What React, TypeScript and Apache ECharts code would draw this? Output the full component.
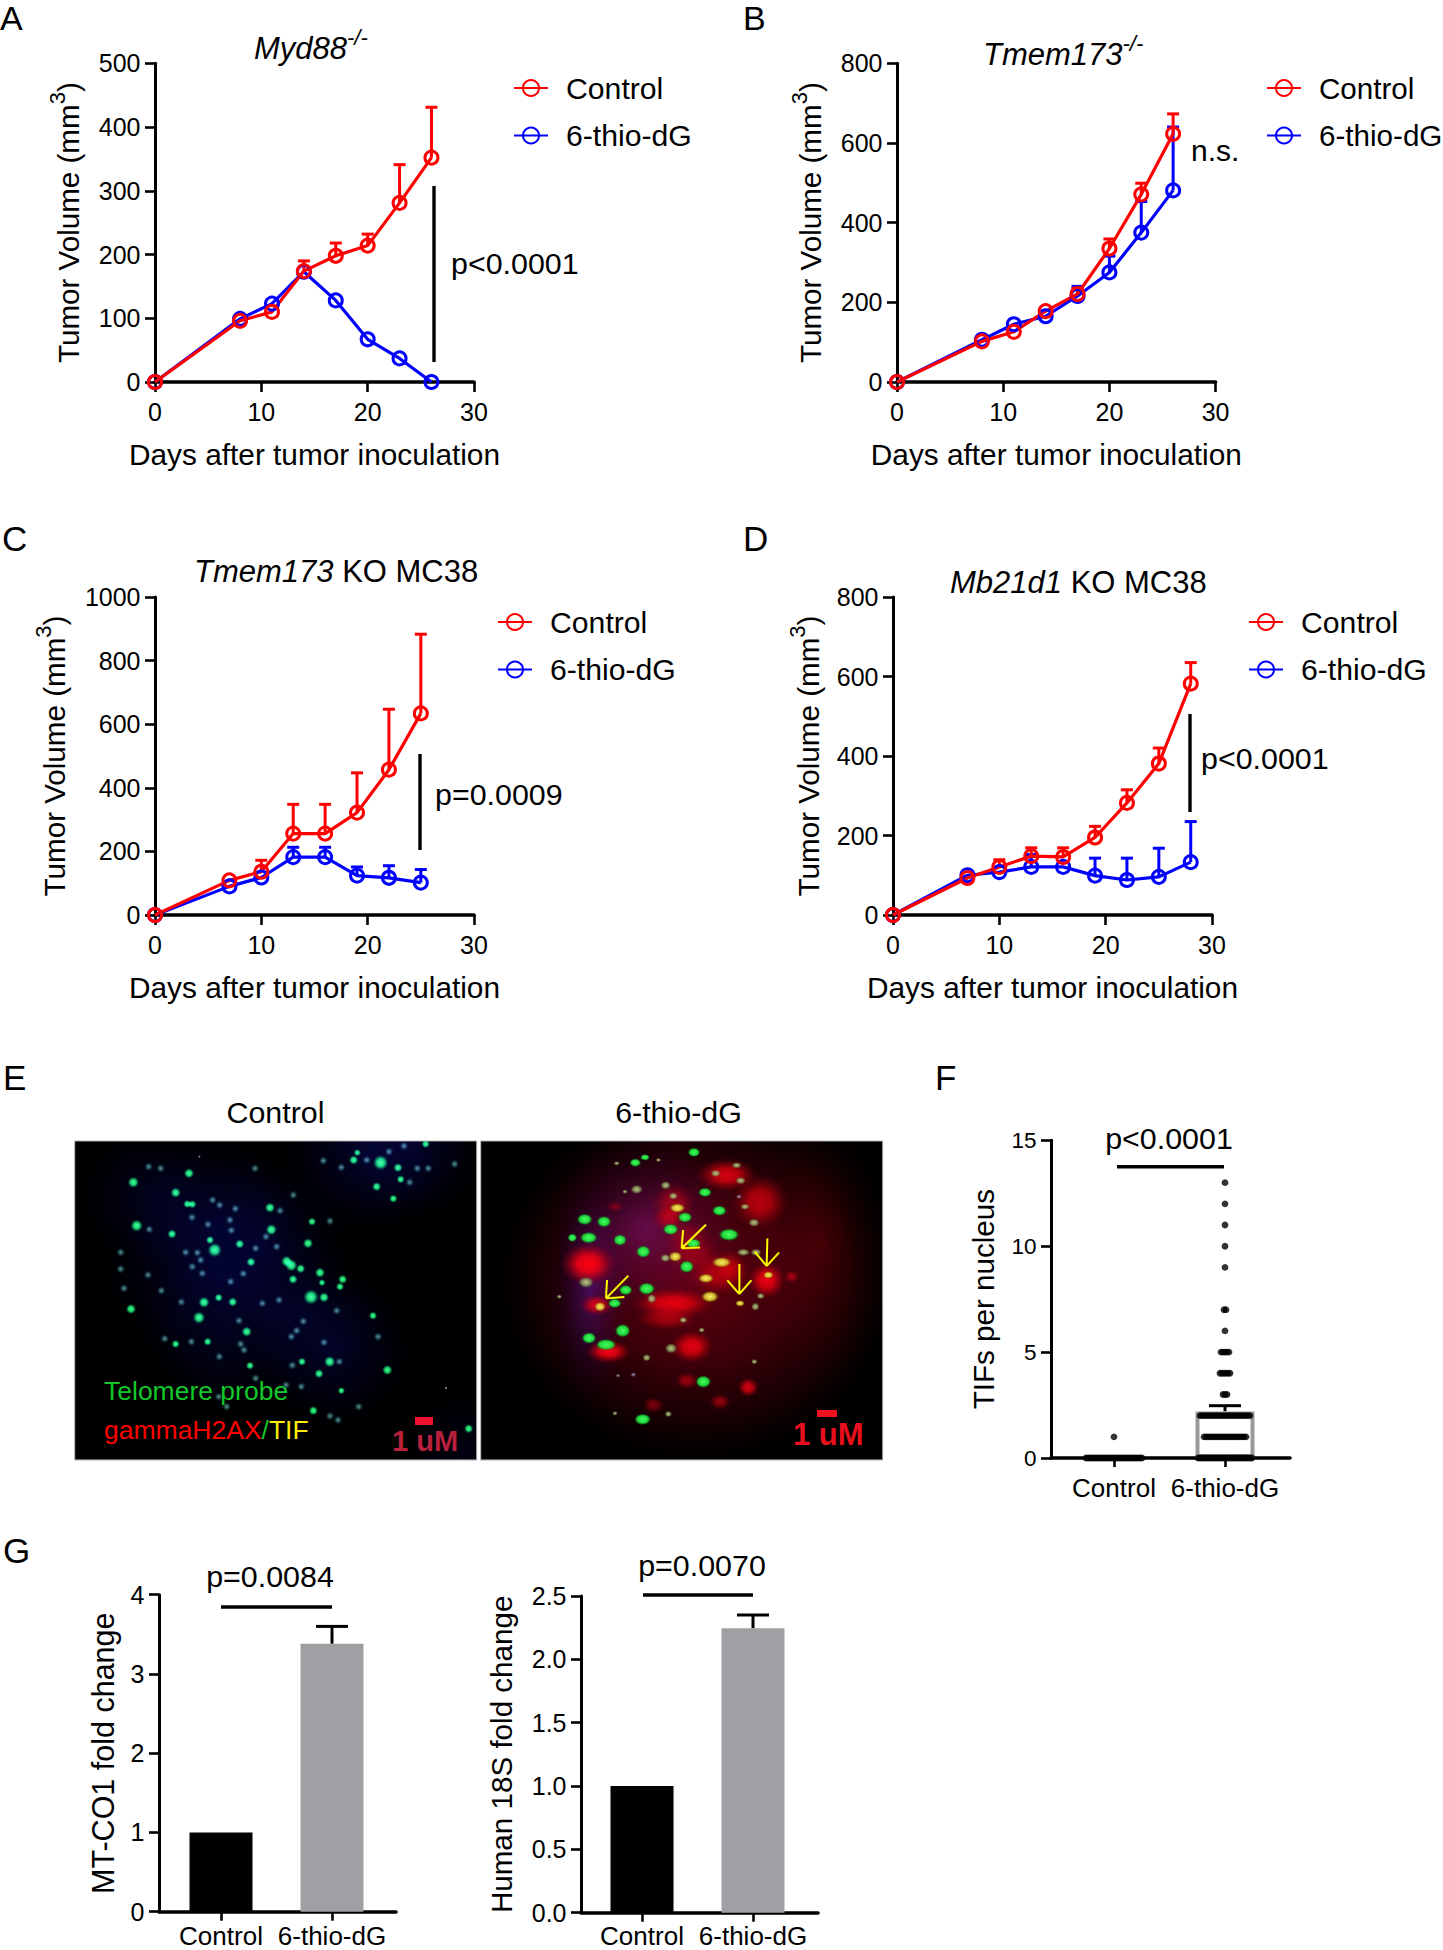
import React, { useEffect, useRef } from "react";
import * as echarts from "echarts";

const FONT = "Liberation Sans";
const RED = "#ff0000";
const BLUE = "#0000ff";

// ---- Panel A
const daysA = [0, 8, 11, 14, 17, 20, 23, 26];
const ctrlA = [0, 96, 110, 174, 198, 214, 281, 352];
const ctrlTopA = [null, null, null, 190, 218, 232, 341, 431];
const drugA = [0, 99, 123, 173, 128, 67, 37, 0];
const drugTopA = [null, null, null, null, null, null, null, null];
const yTicksA = { max: 500, step: 100 };
// ---- Panel B
const daysB = [0, 8, 11, 14, 17, 20, 23, 26];
const ctrlB = [0, 102, 126, 178, 221, 335, 471, 623];
const ctrlTopB = [null, null, null, null, 235, 359, 499, 673];
const drugB = [0, 106, 145, 165, 216, 275, 375, 481];
const drugTopB = [null, null, null, null, 240, 316, 453, 640];
const yTicksB = { max: 800, step: 200 };
// ---- Panel C
const daysC = [0, 7, 10, 13, 16, 19, 22, 25];
const ctrlC = [0, 109, 136, 256, 256, 322, 457, 634];
const ctrlTopC = [null, null, 172, 348, 348, 447, 647, 883];
const drugC = [0, 90, 118, 182, 182, 124, 117, 102];
const drugTopC = [null, null, null, 213, 213, 151, 155, 143];
const yTicksC = { max: 1000, step: 200 };
// ---- Panel D
const daysD = [0, 7, 10, 13, 16, 19, 22, 25, 28];
const ctrlD = [0, 93, 121, 148, 146, 195, 282, 381, 582];
const ctrlTopD = [null, null, 139, 169, 169, 223, 315, 420, 635];
const drugD = [0, 100, 108, 121, 121, 99, 88, 96, 133];
const drugTopD = [null, null, null, 152, null, 143, 143, 168, 235];
const yTicksD = { max: 800, step: 200 };
// ---- Panel F: how many nuclei sit at each TIF count
const tifLevelsDrug = [13, 12, 11, 10, 9, 7, 6, 5, 4, 3, 2, 1, 0];
const tifCountsDrug = [1, 1, 1, 1, 1, 2, 1, 5, 6, 3, 26, 22, 28];
const tifLevelsCtrl = [1, 0];
const tifCountsCtrl = [1, 29];
const tifMean = [0.03, 2.2];
const tifErrTop = [null, 2.47];
// ---- Panel G
const fcCategories = ["Control", "6-thio-dG"];
const mtco1Mean = [1, 3.38];
const mtco1Top = [null, 3.6];
const h18sMean = [1, 2.245];
const h18sTop = [null, 2.35];

// ---- Micrograph spots, in 3x crop pixels: x, y, radius
const ctlBright = [[178,127,11],[345,100,10],[305,158,10],[340,192,8],[355,193,8],[188,257,12],[294,282,9],[422,330,14],[408,300,8],[588,203,10],[592,269,11],[497,312,9],[531,366,9],[638,364,11],[652,376,12],[680,386,9],[657,418,9],[702,310,10],[714,245,8],[738,398,10],[744,428,7],[806,418,9],[798,440,8],[711,471,15],[750,472,10],[390,487,11],[476,486,9],[434,473,8],[375,533,12],[171,507,10],[518,575,10],[305,612,8],[401,605,8],[767,665,11],[735,701,9],[684,665,8],[528,677,8],[897,527,8],[940,690,10],[718,812,9],[802,752,7],[1184,866,9],[920,68,15],[839,60,9],[972,83,9],[1055,12,8],[908,140,9],[958,176,8],[980,118,8],[850,38,7]];
const ctlDim = [[224,80],[260,85],[226,268],[140,337],[140,387],[150,445],[222,405],[262,452],[322,486],[335,337],[355,380],[385,400],[380,360],[470,425],[472,271],[508,401],[565,490],[615,480],[545,325],[608,320],[576,290],[768,243],[788,512],[688,544],[668,572],[652,590],[750,607],[655,676],[495,542],[500,612],[510,630],[436,650],[352,605],[272,596],[545,715],[682,740],[636,735],[434,770],[458,800],[792,840],[912,590],[990,18],[945,35],[878,60],[802,82],[748,62],[1007,127],[1142,72],[1063,85],[1030,85],[543,85],[484,206],[468,240],[402,253],[354,232],[416,180],[437,195],[370,338],[796,665],[854,800],[768,828],[618,212],[658,165]];
const ctlHaze = [[230,170,230,.22],[430,250,280,.28],[560,340,280,.28],[450,570,260,.26],[780,630,250,.28],[870,30,270,.3],[1010,20,240,.26],[1160,930,190,.15],[300,420,240,.16],[680,520,240,.16]];
const drugGreen = [[314,238,15,11],[372,245,14,11],[326,293,17,11],[420,300,13,11],[500,446,16,12],[437,450,13,10],[404,490,13,9],[428,572,15,13],[327,594,14,11],[378,614,20,11],[466,68,11,8],[495,52,9,6],[642,37,12,9],[572,268,15,11],[615,232,14,10],[675,157,13,9],[718,212,14,10],[747,284,20,12],[640,310,15,9],[620,380,14,12],[670,725,15,12],[488,838,16,11],[277,293,9,8],[490,335,14,12]];
const drugPale = [[318,427,15,11],[515,476,9,9],[470,148,12,9],[557,136,10,8],[707,100,10,7],[770,76,10,6],[782,122,10,7],[795,200,9,6],[822,248,11,8],[790,337,13,7],[828,337,11,7],[556,354,10,8],[573,625,12,10],[500,653,8,7],[580,168,9,7],[610,540,8,6],[665,570,6,5],[842,468,8,6],[826,500,8,8],[238,470,5,4],[405,820,5,4],[823,665,6,5],[435,155,5,4],[410,70,6,4],[535,60,5,4],[565,822,7,6]];
const drugYellow = [[592,204,15,9],[725,367,19,10],[586,350,13,10],[678,415,15,9],[690,470,17,11],[360,500,11,9],[780,490,9,6],[865,405,10,7]];
const drugWhite = [[460,704,8,6],[414,707,7,5],[777,170,8,6]];
const drugRed = [[325,372,56,44,1],[740,105,62,34,.8],[840,185,58,56,.65],[580,190,44,44,.45],[565,235,34,28,.5],[620,290,50,34,.3],[720,400,66,44,.55],[640,340,56,40,.35],[860,420,38,38,.9],[935,410,16,13,.5],[580,490,84,32,.85],[560,535,64,24,.5],[350,495,34,22,.8],[635,620,44,34,.85],[385,635,46,24,.95],[620,722,24,17,.5],[805,742,22,20,.8],[720,785,22,17,.5],[520,795,22,17,.4],[405,200,17,11,.35],[750,380,34,34,.4]];
const drugArrows = [[678,254,605,325],[445,407,378,475],[778,372,778,462],[862,295,860,378]];

type Ctx = CanvasRenderingContext2D;
function blob(ctx: Ctx, x: number, y: number, rx: number, ry: number, stops: [number, string][]) {
  ctx.save();
  ctx.translate(x, y);
  ctx.scale(rx, ry);
  const g = ctx.createRadialGradient(0, 0, 0, 0, 0, 1);
  stops.forEach(([o, c]) => g.addColorStop(o, c));
  ctx.fillStyle = g;
  ctx.beginPath();
  ctx.arc(0, 0, 1, 0, Math.PI * 2);
  ctx.fill();
  ctx.restore();
}
function makeCanvas(): [HTMLCanvasElement, Ctx] {
  const canvas = document.createElement("canvas");
  canvas.width = 1212;
  canvas.height = 966;
  const ctx = canvas.getContext("2d") as Ctx;
  ctx.fillStyle = "#000";
  ctx.fillRect(0, 0, 1212, 966);
  ctx.globalCompositeOperation = "lighter";
  return [canvas, ctx];
}
function finish(canvas: HTMLCanvasElement, ctx: Ctx) {
  ctx.globalCompositeOperation = "source-over";
  ctx.fillStyle = "#fff";
  ctx.fillRect(0, 0, 1212, 3);
  ctx.fillRect(0, 960, 1212, 6);
  ctx.fillRect(0, 0, 2, 966);
  ctx.fillRect(1208, 0, 4, 966);
  ctx.strokeStyle = "#b8b8b8";
  ctx.lineWidth = 3;
  ctx.strokeRect(2, 3, 1206, 957);
  return canvas.toDataURL("image/png");
}
function paintControl() {
  const [canvas, ctx] = makeCanvas();
  ctlHaze.forEach(([x, y, r, a]) =>
    blob(ctx, x, y, r, r, [[0, `rgba(10,10,120,${a})`], [0.55, `rgba(8,8,90,${a * 0.6})`], [1, "rgba(0,0,40,0)"]]),
  );
  ctlDim.forEach(([x, y]) =>
    blob(ctx, x, y, 14, 14, [[0, "rgba(120,190,180,.8)"], [0.45, "rgba(70,140,135,.55)"], [1, "rgba(0,40,40,0)"]]),
  );
  ctlBright.forEach(([x, y, r]) =>
    blob(ctx, x, y, r * 1.6, r * 1.6, [[0, "rgba(70,255,140,1)"], [0.5, "rgba(25,220,95,.95)"], [0.75, "rgba(15,130,70,.55)"], [1, "rgba(0,50,30,0)"]]),
  );
  blob(ctx, 1116, 744, 4, 4, [[0, "#fff"], [1, "rgba(255,255,255,0)"]]);
  blob(ctx, 376, 50, 4, 4, [[0, "#bbb"], [1, "rgba(255,255,255,0)"]]);
  return finish(canvas, ctx);
}
function paintDrug() {
  const [canvas, ctx] = makeCanvas();
  blob(ctx, 650, 420, 610, 560, [[0, "rgba(130,0,20,.75)"], [0.45, "rgba(100,0,16,.6)"], [0.75, "rgba(55,0,8,.45)"], [1, "rgba(20,0,0,0)"]]);
  blob(ctx, 1020, 300, 220, 460, [[0, "rgba(75,0,0,.45)"], [1, "rgba(20,0,0,0)"]]);
  blob(ctx, 500, 270, 290, 270, [[0, "rgba(70,25,125,.5)"], [1, "rgba(20,0,60,0)"]]);
  blob(ctx, 330, 460, 120, 320, [[0, "rgba(35,20,130,.6)"], [1, "rgba(0,0,50,0)"]]);
  ctx.globalCompositeOperation = "source-over";
  drugRed.forEach(([x, y, rx, ry, a]) =>
    blob(ctx, x, y, rx * 1.5, ry * 1.5, [[0, `rgba(255,0,20,${a})`], [0.4, `rgba(245,0,15,${a * 0.85})`], [0.75, `rgba(190,0,15,${a * 0.35})`], [1, "rgba(120,0,10,0)"]]),
  );
  drugPale.forEach(([x, y, rx, ry]) =>
    blob(ctx, x, y, rx * 1.6, ry * 1.6, [[0, "rgba(200,215,150,.95)"], [0.6, "rgba(140,160,95,.75)"], [1, "rgba(60,70,30,0)"]]),
  );
  drugYellow.forEach(([x, y, rx, ry]) =>
    blob(ctx, x, y, rx * 1.6, ry * 1.6, [[0, "rgba(255,240,100,1)"], [0.6, "rgba(215,200,50,.9)"], [1, "rgba(120,100,0,0)"]]),
  );
  drugWhite.forEach(([x, y, rx, ry]) =>
    blob(ctx, x, y, rx * 1.3, ry * 1.3, [[0, "rgba(210,210,230,.95)"], [1, "rgba(60,60,90,0)"]]),
  );
  drugGreen.forEach(([x, y, rx, ry]) =>
    blob(ctx, x, y, rx * 1.6, ry * 1.6, [[0, "rgba(70,255,100,1)"], [0.65, "rgba(30,225,60,.95)"], [1, "rgba(0,90,20,0)"]]),
  );
  ctx.strokeStyle = "#ffff00";
  ctx.lineWidth = 6;
  drugArrows.forEach(([x0, y0, x1, y1]) => {
    const a = Math.atan2(y1 - y0, x1 - x0);
    ctx.beginPath();
    ctx.moveTo(x0, y0);
    ctx.lineTo(x1, y1);
    [0.72, -0.72].forEach((d) => {
      ctx.moveTo(x1, y1);
      ctx.lineTo(x1 - 55 * Math.cos(a + d), y1 - 55 * Math.sin(a + d));
    });
    ctx.stroke();
  });
  return finish(canvas, ctx);
}

function rowsToPoints(levels: number[], counts: number[], center: number, pitch: number) {
  const pts: number[][] = [];
  levels.forEach((v, i) => {
    const n = counts[i];
    for (let k = 0; k < n; k++) pts.push([center + (k - (n - 1) / 2) * pitch, v]);
  });
  return pts;
}
const zip3 = (xs: number[], tops: (number | null)[], means: number[]) =>
  xs.map((x, i) => [x, tops[i], means[i]]).filter((d) => d[1] !== null);

function errorBars(idx: number, data: any[], color: string, capW: number, w: number) {
  return {
    type: "custom",
    xAxisIndex: idx,
    yAxisIndex: idx,
    silent: true,
    clip: false,
    encode: { x: 0, y: 1 },
    data,
    renderItem: (_: any, api: any) => {
      const a = api.coord([api.value(0), api.value(2)]);
      const b = api.coord([api.value(0), api.value(1)]);
      const style = { stroke: color, lineWidth: w, fill: "none" };
      return {
        type: "group",
        children: [
          { type: "line", shape: { x1: a[0], y1: a[1], x2: b[0], y2: b[1] }, style },
          { type: "line", shape: { x1: b[0] - capW / 2, y1: b[1], x2: b[0] + capW / 2, y2: b[1] }, style },
        ],
      };
    },
  };
}
const lineSeries = (idx: number, name: string, days: number[], vals: number[], color: string) => ({
  type: "line",
  name,
  xAxisIndex: idx,
  yAxisIndex: idx,
  clip: false,
  symbol: "circle",
  symbolSize: 13,
  data: days.map((d, i) => [d, vals[i]]),
  lineStyle: { color, width: 3.2 },
  itemStyle: { color: "transparent", borderColor: color, borderWidth: 3 },
});

const axisFont = { fontFamily: FONT, color: "#000" };
const yAxisOf = (gridIndex: number, max: number, step: number, name: any, nameGap: number, rich: any, fs: number, fmt: any = (v: number) => String(v), nameSize = 29.6) => ({
  type: "value",
  gridIndex,
  min: 0,
  max,
  interval: step,
  splitLine: { show: false },
  axisLine: { show: true, onZero: false, lineStyle: { color: "#000", width: 3 } },
  axisTick: { show: true, length: 10, lineStyle: { color: "#000", width: 2.6 } },
  axisLabel: { ...axisFont, fontSize: fs, margin: 14.5, formatter: fmt },
  name,
  nameLocation: "middle",
  nameGap,
  nameMoveOverlap: false,
  nameTextStyle: { ...axisFont, fontSize: nameSize, rich },
});
const numXAxis = (gridIndex: number, name = "Days after tumor inoculation") => ({
  type: "value",
  gridIndex,
  min: 0,
  max: 30,
  interval: 10,
  splitLine: { show: false },
  axisLine: { show: true, onZero: false, lineStyle: { color: "#000", width: 3.6 } },
  axisTick: { show: true, length: 10, lineStyle: { color: "#000", width: 2.6 } },
  axisLabel: { ...axisFont, fontSize: 25, margin: 17, formatter: (v: number) => String(v) },
  name,
  nameLocation: "middle",
  nameGap: 57,
  nameMoveOverlap: false,
  nameTextStyle: { ...axisFont, fontSize: 29.8 },
});
const catXAxis = (gridIndex: number, lo: number, hi: number, fs: number, margin: number) => ({
  type: "value",
  gridIndex,
  min: lo,
  max: hi,
  splitLine: { show: false },
  axisLine: { show: true, onZero: false, lineStyle: { color: "#000", width: 3.6 } },
  axisTick: { show: true, length: 9, customValues: [0, 1], lineStyle: { color: "#000", width: 2.6 } },
  axisLabel: { ...axisFont, fontSize: fs, margin, customValues: [0, 1], formatter: (v: number) => fcCategories[v] },
});

const supRich = {
  m: { fontFamily: FONT, fontSize: 29.6, lineHeight: 44, color: "#000" },
  s: { fontFamily: FONT, fontSize: 22, lineHeight: 22, verticalAlign: "top", color: "#000" },
};
const volumeName = "{m|Tumor Volume (mm}{s|3}{m|)}";

const legendOf = (left: number, top: number, fontSize = 30.2) => ({
  left,
  top,
  orient: "vertical",
  padding: 0,
  itemWidth: 34,
  itemHeight: 20,
  itemGap: 13.5,
  selectedMode: false,
  data: ["Control", "6-thio-dG"],
  textStyle: { fontFamily: FONT, fontSize, color: "#000", padding: [0, 0, 0, 13], lineHeight: 34, height: 34 },
});

const titleOf = (left: number, top: number, text: string) => ({
  left,
  top,
  padding: 0,
  text,
  textStyle: {
    fontWeight: "normal",
    rich: {
      i: { fontFamily: FONT, fontStyle: "italic", fontWeight: "normal", fontSize: 31, lineHeight: 44, color: "#000" },
      r: { fontFamily: FONT, fontWeight: "normal", fontSize: 31, lineHeight: 44, color: "#000" },
      s: { fontFamily: FONT, fontStyle: "italic", fontWeight: "normal", fontSize: 22, lineHeight: 21, verticalAlign: "top", color: "#000" },
    },
  },
});

const txt = (text: string, x: number, y: number, fontSize: number, align = "left", extra: any = {}) => ({
  type: "text",
  z: 10,
  style: {
    text, x, y, fontSize, fontFamily: FONT, fill: "#000",
    align, textAlign: align, verticalAlign: "middle", textVerticalAlign: "middle", ...extra,
  },
});
const seg = (x1: number, y1: number, x2: number, y2: number, w = 3.4) => ({
  type: "line",
  z: 10,
  shape: { x1, y1, x2, y2 },
  style: { stroke: "#000", lineWidth: w },
});

function buildOption() {
  const grids = [
    { left: 155, top: 63.3, width: 319, height: 318.7 },
    { left: 897, top: 63.3, width: 318.6, height: 318.7 },
    { left: 155, top: 597, width: 319, height: 318 },
    { left: 893, top: 597, width: 319, height: 318 },
    { left: 1051, top: 1140.3, width: 239, height: 317.7 },
    { left: 159, top: 1594.7, width: 237, height: 317 },
    { left: 581, top: 1596, width: 237, height: 316.7 },
  ];
  const xAxes = [
    numXAxis(0), numXAxis(1), numXAxis(2), numXAxis(3),
    catXAxis(4, -63 / 111, 176 / 111, 26, 17),
    catXAxis(5, -62 / 111, 175 / 111, 26, 11.5),
    catXAxis(6, -61 / 111, 176 / 111, 26, 10.5),
  ];
  const yAxes = [
    yAxisOf(0, yTicksA.max, yTicksA.step, volumeName, 65, supRich, 25),
    yAxisOf(1, yTicksB.max, yTicksB.step, volumeName, 65, supRich, 25),
    yAxisOf(2, yTicksC.max, yTicksC.step, volumeName, 79, supRich, 25),
    yAxisOf(3, yTicksD.max, yTicksD.step, volumeName, 63, supRich, 25),
    yAxisOf(4, 15, 5, "TIFs per nucleus", 52.5, undefined, 22.5),
    yAxisOf(5, 4, 1, "MT-CO1 fold change", 41, undefined, 25, undefined, 30.5),
    yAxisOf(6, 2.5, 0.5, "Human 18S fold change", 65, undefined, 25, (v: number) => v.toFixed(1)),
  ];

  const panels: [number, number[], number[], (number | null)[], number[], (number | null)[]][] = [
    [0, daysA, ctrlA, ctrlTopA, drugA, drugTopA],
    [1, daysB, ctrlB, ctrlTopB, drugB, drugTopB],
    [2, daysC, ctrlC, ctrlTopC, drugC, drugTopC],
    [3, daysD, ctrlD, ctrlTopD, drugD, drugTopD],
  ];
  const series: any[] = [];
  panels.forEach(([i, days, c, cTop, d, dTop]) => {
    series.push(errorBars(i, zip3(days, dTop, d), BLUE, 12, 3));
    series.push(lineSeries(i, "6-thio-dG", days, d, BLUE));
    series.push(errorBars(i, zip3(days, cTop, c), RED, 12, 3));
    series.push(lineSeries(i, "Control", days, c, RED));
  });
  // F
  series.push({
    type: "bar", xAxisIndex: 4, yAxisIndex: 4, barWidth: 59, clip: false,
    data: tifMean.map((v, i) => [i, v]),
    itemStyle: { color: "#fff", borderColor: "#9a9a9e", borderWidth: 4 },
  });
  series.push(errorBars(4, zip3([0, 1], tifErrTop, tifMean), "#000", 32, 3));
  series.push({
    type: "scatter", xAxisIndex: 4, yAxisIndex: 4, symbolSize: 6.8, clip: false,
    itemStyle: { color: "#000" },
    data: [
      ...rowsToPoints(tifLevelsCtrl, tifCountsCtrl, 0, 2 / 111),
      ...rowsToPoints(tifLevelsDrug, tifCountsDrug, 1, 2 / 111),
    ],
  });
  // G
  [[5, mtco1Mean, mtco1Top], [6, h18sMean, h18sTop]].forEach(([i, mean, top]: any) => {
    series.push({
      type: "bar", xAxisIndex: i, yAxisIndex: i, barWidth: 63, clip: false,
      data: mean.map((v: number, k: number) => ({ value: [k, v], itemStyle: { color: k === 0 ? "#000" : "#a0a0a4" } })),
    });
    series.push(errorBars(i, zip3([0, 1], top, mean), "#000", 32, 3));
  });

  const fluo = (text: string, x: number, y: number) => ({
    type: "text",
    z: 10,
    style: {
      text, x, y, fontFamily: FONT, fontSize: 26.5, verticalAlign: "middle", textVerticalAlign: "middle",
      rich: {
        g: { fontFamily: FONT, fontSize: 26.5, fill: "#12c82a", color: "#12c82a" },
        r: { fontFamily: FONT, fontSize: 26.5, fill: "#ff0000", color: "#ff0000" },
        k: { fontFamily: FONT, fontSize: 26.5, fill: "#12c82a", color: "#12c82a" },
        y: { fontFamily: FONT, fontSize: 26.5, fill: "#ffee00", color: "#ffee00" },
      },
    },
  });
  const graphic: any[] = [
    txt("A", 0, 17.5, 34), txt("B", 743, 17.5, 34), txt("C", 2, 538, 35), txt("D", 743, 538, 35),
    txt("E", 3, 1077, 35), txt("F", 935, 1077, 35), txt("G", 3, 1550, 35),
    seg(434, 186, 434, 362), txt("p<0.0001", 451, 262.5, 30.4),
    txt("n.s.", 1191, 150.5, 30),
    seg(420, 754, 420, 850), txt("p=0.0009", 435, 794, 30.4),
    seg(1190, 714, 1190, 812), txt("p<0.0001", 1201, 757.5, 30.4),
    txt("Control", 275.5, 1112, 30.4, "center"), txt("6-thio-dG", 678.5, 1112, 30.4, "center"),
    { type: "image", z: 5, style: { image: paintControl(), x: 74, y: 1140, width: 404, height: 322 } },
    { type: "image", z: 5, style: { image: paintDrug(), x: 480, y: 1140, width: 404, height: 322 } },
    fluo("{g|Telomere probe}", 104, 1391),
    fluo("{r|gammaH2AX}{k|/}{y|TIF}", 104, 1430),
    { type: "rect", z: 10, shape: { x: 415, y: 1417, width: 18, height: 8 }, style: { fill: "#f01030" } },
    { type: "rect", z: 10, shape: { x: 817, y: 1410, width: 20, height: 7 }, style: { fill: "#f01020" } },
    txt("1 uM", 392, 1441, 29, "left", { fontWeight: "bold", fill: "#b8203c" }),
    txt("1 uM", 793, 1434, 31, "left", { fontWeight: "bold", fill: "#e8101c" }),
    txt("p<0.0001", 1169, 1137.5, 30.4, "center"), seg(1117, 1166.7, 1224, 1166.7, 3.6),
    txt("p=0.0084", 270, 1575.5, 30.4, "center"), seg(221, 1607, 332, 1607, 3.6),
    txt("p=0.0070", 702, 1564.5, 30.4, "center"), seg(643, 1595, 753, 1595, 3.6),
  ];

  return {
    animation: false,
    backgroundColor: "#fff",
    tooltip: { show: false },
    title: [
      titleOf(254, 26, "{i|Myd88}{s|-/-}"),
      titleOf(983, 32, "{i|Tmem173}{s|-/-}"),
      titleOf(194, 549, "{i|Tmem173}{r| KO MC38}"),
      titleOf(950, 560, "{i|Mb21d1}{r| KO MC38}"),
    ],
    legend: [legendOf(513, 71), legendOf(1266, 71, 29.6), legendOf(497, 605), legendOf(1248, 605)],
    grid: grids,
    xAxis: xAxes,
    yAxis: yAxes,
    series,
    graphic,
  };
}

export default function App() {
  const ref = useRef<HTMLDivElement>(null);
  useEffect(() => {
    document.body.style.margin = "0";
    const chart = echarts.init(ref.current as HTMLDivElement, undefined, { renderer: "svg" });
    chart.setOption(buildOption() as any);
    return () => chart.dispose();
  }, []);
  return <div ref={ref} style={{ width: 1443, height: 1950 }} />;
}
